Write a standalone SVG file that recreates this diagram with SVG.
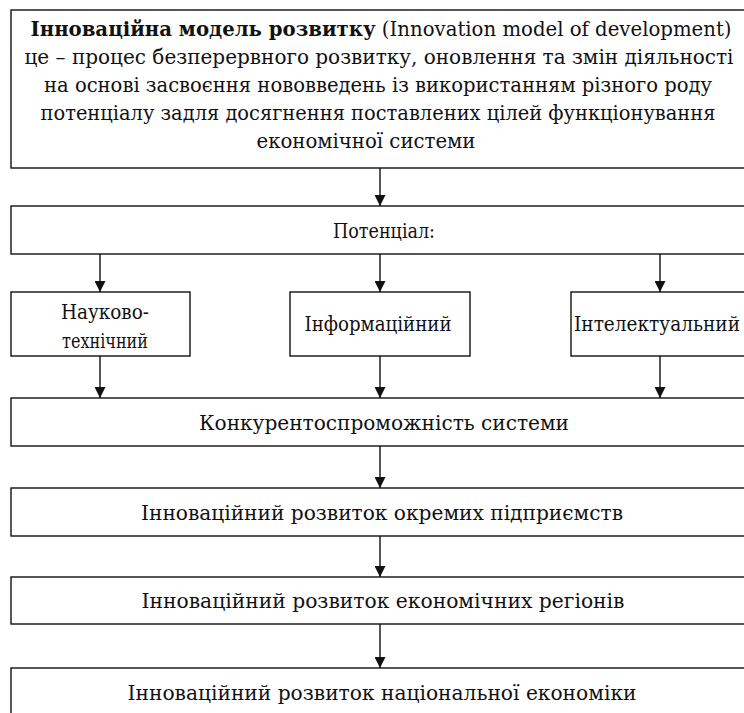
<svg xmlns="http://www.w3.org/2000/svg" width="744" height="713" viewBox="0 0 744 713">
<style>
.box{fill:#fff;stroke:#111;stroke-width:1.4}
.t{font-family:'DejaVu Serif Condensed','DejaVu Serif',serif;font-stretch:condensed;font-size:20.5px;fill:#111;text-anchor:middle}
.b{font-weight:bold}
.c{stroke:#111;stroke-width:1.4;fill:none;marker-end:url(#ah)}
</style>
<defs>
<marker id="ah" markerUnits="userSpaceOnUse" markerWidth="11" markerHeight="11" refX="11" refY="5.5" orient="auto">
<path d="M0,0 L11,5.5 L0,11 z" fill="#111"/>
</marker>
</defs>
<rect width="744" height="713" fill="#fff"/>
<g id="model">
<rect class="box" x="11" y="10" width="745" height="158"/>
<text class="t" x="381" y="36" textLength="701" lengthAdjust="spacingAndGlyphs"><tspan class="b">Інноваційна модель розвитку</tspan> (Innovation model of development)</text>
<text class="t" x="379" y="64" textLength="709" lengthAdjust="spacingAndGlyphs">це – процес безперервного розвитку, оновлення та змін діяльності</text>
<text class="t" x="378" y="92" textLength="668" lengthAdjust="spacingAndGlyphs">на основі засвоєння нововведень із використанням різного роду</text>
<text class="t" x="378" y="120" textLength="675" lengthAdjust="spacingAndGlyphs">потенціалу задля досягнення поставлених цілей функціонування</text>
<text class="t" x="366" y="148" textLength="219" lengthAdjust="spacingAndGlyphs">економічної системи</text>
</g>
<g id="potential">
<rect class="box" x="11" y="206" width="745" height="48"/>
<text class="t" x="384" y="238" textLength="102" lengthAdjust="spacingAndGlyphs">Потенціал:</text>
</g>
<g id="sci">
<rect class="box" x="11" y="292" width="179" height="64"/>
<text class="t" x="105" y="319" textLength="88" lengthAdjust="spacingAndGlyphs">Науково-</text>
<text class="t" x="105" y="348" textLength="86" lengthAdjust="spacingAndGlyphs">технічний</text>
</g>
<g id="info">
<rect class="box" x="290" y="292" width="180" height="64"/>
<text class="t" x="378" y="331" textLength="147" lengthAdjust="spacingAndGlyphs">Інформаційний</text>
</g>
<g id="intel">
<rect class="box" x="571" y="292" width="185" height="64"/>
<text class="t" x="657" y="331" textLength="166" lengthAdjust="spacingAndGlyphs">Інтелектуальний</text>
</g>
<g id="compet">
<rect class="box" x="11" y="398" width="745" height="48"/>
<text class="t" x="384" y="430" textLength="370" lengthAdjust="spacingAndGlyphs">Конкурентоспроможність системи</text>
</g>
<g id="enterprises">
<rect class="box" x="11" y="488" width="745" height="48"/>
<text class="t" x="382" y="520" textLength="482" lengthAdjust="spacingAndGlyphs">Інноваційний розвиток окремих підприємств</text>
</g>
<g id="regions">
<rect class="box" x="11" y="577" width="745" height="47"/>
<text class="t" x="383" y="608" textLength="483" lengthAdjust="spacingAndGlyphs">Інноваційний розвиток економічних регіонів</text>
</g>
<g id="national">
<rect class="box" x="11" y="668" width="745" height="60"/>
<text class="t" x="382" y="700" textLength="509" lengthAdjust="spacingAndGlyphs">Інноваційний розвиток національної економіки</text>
</g>
<g id="connectors">
<line class="c" x1="380" y1="168" x2="380" y2="206"/>
<line class="c" x1="100" y1="254" x2="100" y2="292"/>
<line class="c" x1="380" y1="254" x2="380" y2="292"/>
<line class="c" x1="660" y1="254" x2="660" y2="292"/>
<line class="c" x1="100" y1="356" x2="100" y2="398"/>
<line class="c" x1="380" y1="356" x2="380" y2="398"/>
<line class="c" x1="660" y1="356" x2="660" y2="398"/>
<line class="c" x1="380" y1="446" x2="380" y2="488"/>
<line class="c" x1="380" y1="536" x2="380" y2="577"/>
<line class="c" x1="380" y1="624" x2="380" y2="668"/>
</g>
</svg>
